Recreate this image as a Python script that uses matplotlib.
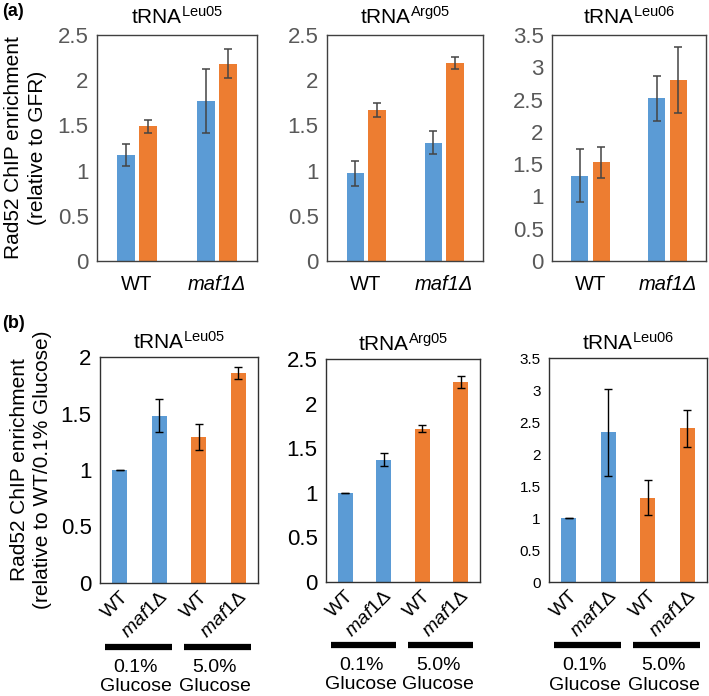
import numpy as np
import matplotlib
matplotlib.use("Agg")
import matplotlib.pyplot as plt
import matplotlib.transforms as mtransforms

plt.rcParams['font.family'] = ['Liberation Sans', 'DejaVu Sans']
plt.rcParams['mathtext.fontset'] = 'custom'
plt.rcParams['mathtext.rm'] = 'Liberation Sans'
plt.rcParams['mathtext.it'] = 'Liberation Sans:italic'

BLUE = '#5B9BD5'
ORANGE = '#ED7D31'

# ---- panel (a): relative to GFR, blue / orange pairs for WT and maf1
titles = [r'tRNA$^{\mathrm{Leu05}}$', r'tRNA$^{\mathrm{Arg05}}$', r'tRNA$^{\mathrm{Leu06}}$']
strains = ['WT', 'maf1Δ']
a_blue = [[1.17, 1.77], [0.97, 1.31], [1.32, 2.52]]
a_blue_err = [[0.12, 0.35], [0.14, 0.13], [0.41, 0.35]]
a_orange = [[1.49, 2.18], [1.67, 2.19], [1.53, 2.80]]
a_orange_err = [[0.07, 0.16], [0.08, 0.07], [0.24, 0.51]]
a_ymax = [2.5, 2.5, 3.5]

# ---- panel (b): relative to WT/0.1% glucose
b_labels = ['WT', r'$\mathit{maf1}$Δ', 'WT', r'$\mathit{maf1}$Δ']
b_vals = [[1.0, 1.48, 1.29, 1.86], [1.0, 1.37, 1.72, 2.24], [1.0, 2.34, 1.32, 2.40]]
b_err = [[0.0, 0.145, 0.115, 0.055], [0.0, 0.075, 0.04, 0.065], [0.0, 0.68, 0.28, 0.29]]
b_colors = [BLUE, BLUE, ORANGE, ORANGE]
b_ymax = [2.0, 2.5, 3.5]
glucose = ['0.1%\nGlucose', '5.0%\nGlucose']

W, H = 709, 696
fig = plt.figure(figsize=(W / 100, H / 100), dpi=100)


def px_axes(x0, x1, y0, y1):
    return fig.add_axes([x0 / W, 1 - y1 / H, (x1 - x0) / W, (y1 - y0) / H])


a_boxes = [(97, 257, 35, 261), (327, 483, 35, 261), (552, 706, 35, 261)]
b_boxes = [(100, 258, 357, 583), (326, 480, 359, 582), (549, 707, 358, 582)]

for i, box in enumerate(a_boxes):
    ax = px_axes(*box)
    x = np.arange(len(strains))
    ax.bar(x - 0.14, a_blue[i], 0.22, color=BLUE, yerr=a_blue_err[i],
           error_kw=dict(ecolor='#444444', elinewidth=1.1, capsize=3, capthick=1.1))
    ax.bar(x + 0.14, a_orange[i], 0.22, color=ORANGE, yerr=a_orange_err[i],
           error_kw=dict(ecolor='#444444', elinewidth=1.1, capsize=3, capthick=1.1))
    ax.set_xlim(-0.5, 1.5)
    ax.set_ylim(0, a_ymax[i])
    ax.set_yticks(np.arange(0, a_ymax[i] + 0.01, 0.5))
    ax.set_yticklabels(['%g' % v for v in np.arange(0, a_ymax[i] + 0.01, 0.5)])
    ax.set_xticks(x)
    ax.set_xticklabels(strains)
    ax.get_xticklabels()[1].set_fontstyle('italic')
    ax.tick_params(axis='y', length=0, labelsize=16, labelcolor='#595959', pad=6)
    ax.tick_params(axis='x', length=0, labelsize=14.5, pad=10)
    for s in ax.spines.values():
        s.set_color('#404040')
        s.set_linewidth(1.0)
    ax.set_title(titles[i], fontsize=15, pad=8)
    if i == 0:
        ax.set_ylabel('Rad52 ChIP enrichment\n(relative to GFR)', fontsize=15,
                      labelpad=8, linespacing=1.3)

for i, box in enumerate(b_boxes):
    ax = px_axes(*box)
    x = np.arange(len(b_labels))
    ax.bar(x, b_vals[i], 0.38, color=b_colors, yerr=b_err[i],
           error_kw=dict(ecolor='black', elinewidth=1.0, capsize=3, capthick=1.0))
    ax.set_xlim(-0.5, 3.5)
    ax.set_ylim(0, b_ymax[i])
    yt = np.arange(0, b_ymax[i] + 0.01, 0.5)
    ax.set_yticks(yt)
    ax.set_yticklabels(['%g' % v for v in yt])
    ax.set_xticks(x)
    ax.set_xticklabels(b_labels, rotation=45, ha='right', rotation_mode='anchor')
    small = i == 2
    ax.tick_params(axis='y', length=0, labelsize=11 if small else 16, pad=6)
    ax.tick_params(axis='x', length=0, labelsize=14, pad=4)
    for s in ax.spines.values():
        s.set_color('#303030')
        s.set_linewidth(1.0)
    ax.set_title(titles[i], fontsize=15, pad=6)
    trans = mtransforms.blended_transform_factory(ax.transData, ax.transAxes)
    for g, (lo, hi) in enumerate([(-0.38, 1.32), (1.62, 3.32)]):
        ax.plot([lo, hi], [-0.283, -0.283], color='black', lw=4.5,
                transform=trans, clip_on=False, solid_capstyle='butt')
        ax.text((lo + hi) / 2 - 0.06, -0.335, glucose[g], transform=trans,
                ha='center', va='top', fontsize=14, linespacing=1.2)
    if i == 0:
        ax.set_ylabel('Rad52 ChIP enrichment\n(relative to WT/0.1% Glucose)',
                      fontsize=15, labelpad=6, linespacing=1.3)

fig.text(2 / W, 1 - 12 / H, '(a)', fontsize=13, fontweight='bold', va='center')
fig.text(2 / W, 1 - 323 / H, '(b)', fontsize=13, fontweight='bold', va='center')

fig.savefig('out.png', dpi=100)
